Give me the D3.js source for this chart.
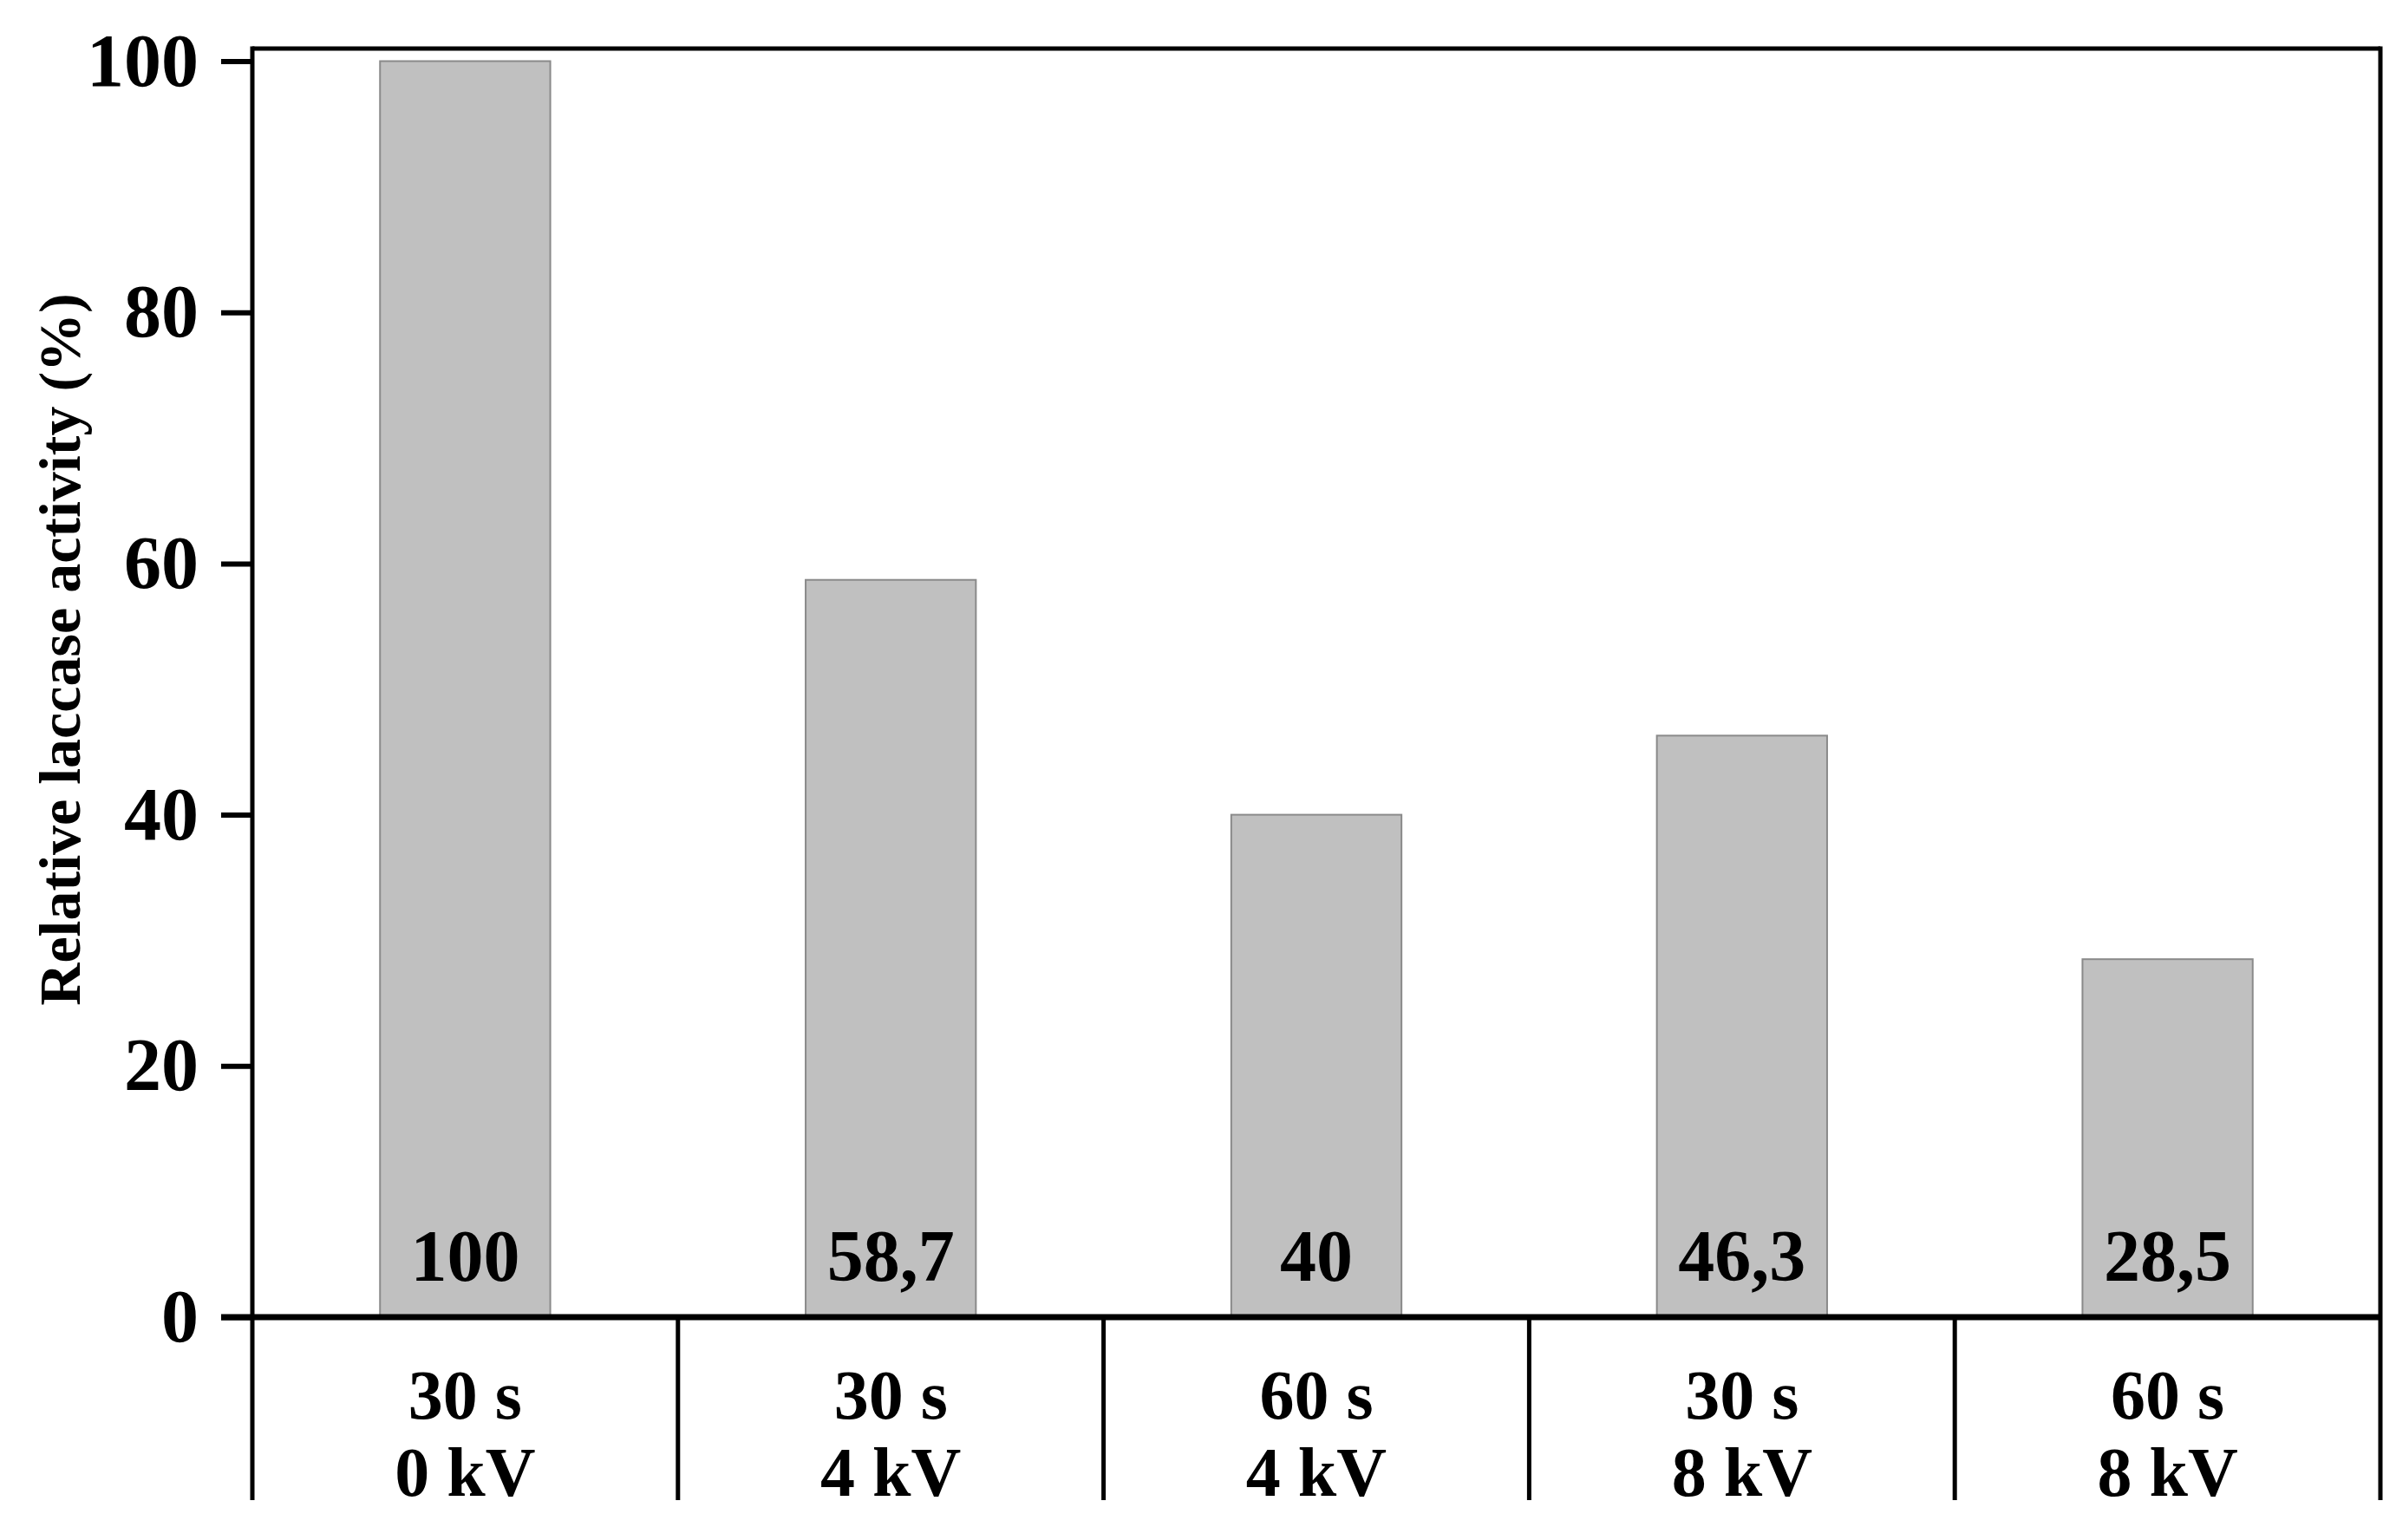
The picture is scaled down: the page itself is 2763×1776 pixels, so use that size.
<!DOCTYPE html>
<html>
<head>
<meta charset="utf-8">
<script src="https://cdn.jsdelivr.net/npm/d3@7"></script>
<style>
  html, body { margin: 0; padding: 0; background: #fff; }
  svg { display: block; }
</style>
</head>
<body>
<div id="chart"></div>
<script>
const WIDTH = 2763;
const HEIGHT = 1776;
const MARGIN = { top: 56, right: 18, bottom: 257, left: 291 };
const FONT = "'Liberation Serif', 'DejaVu Serif', serif";

const categories = ["c1", "c2", "c3", "c4", "c5"];
const timeLabels = ["30 s", "30 s", "60 s", "30 s", "60 s"];
const voltageLabels = ["0 kV", "4 kV", "4 kV", "8 kV", "8 kV"];
const activity = [100, 58.7, 40, 46.3, 28.5];
const valueLabels = ["100", "58,7", "40", "46,3", "28,5"];
const yTicks = [0, 20, 40, 60, 80, 100];

const points = categories.map((c, i) => ({
  key: c,
  time: timeLabels[i],
  volt: voltageLabels[i],
  value: activity[i],
  label: valueLabels[i],
}));

const x0 = MARGIN.left;
const x1 = WIDTH - MARGIN.right;
const yBase = HEIGHT - MARGIN.bottom;

const xScale = d3
  .scaleBand()
  .domain(categories)
  .range([x0, x1])
  .paddingInner(0.6)
  .paddingOuter(0.3);

const yScale = d3
  .scaleLinear()
  .domain([0, 100])
  .range([yBase, 70.5]);

const svg = d3
  .select("#chart")
  .append("svg")
  .attr("width", WIDTH)
  .attr("height", HEIGHT)
  .attr("viewBox", `0 0 ${WIDTH} ${HEIGHT}`);

// bars
svg
  .append("g")
  .selectAll("rect")
  .data(points)
  .join("rect")
  .attr("x", (d) => xScale(d.key))
  .attr("y", (d) => yScale(d.value))
  .attr("width", xScale.bandwidth())
  .attr("height", (d) => yScale(0) - yScale(d.value))
  .attr("fill", "#c0c0c0")
  .attr("stroke", "#8a8a8a")
  .attr("stroke-width", 2);

// value labels inside bars, near the base
svg
  .append("g")
  .selectAll("text")
  .data(points)
  .join("text")
  .attr("x", (d) => xScale(d.key) + xScale.bandwidth() / 2)
  .attr("y", yBase - 42)
  .attr("text-anchor", "middle")
  .attr("font-family", FONT)
  .attr("font-weight", "bold")
  .attr("font-size", 84)
  .attr("fill", "#000")
  .text((d) => d.label);

// y axis
const yAxis = d3.axisLeft(yScale).tickValues(yTicks).tickSize(36).tickPadding(26);
svg
  .append("g")
  .attr("transform", `translate(${x0},0)`)
  .call(yAxis)
  .call((g) => g.select(".domain").remove())
  .call((g) => g.selectAll("line").attr("stroke", "#000").attr("stroke-width", 6))
  .call((g) =>
    g
      .selectAll("text")
      .attr("font-family", FONT)
      .attr("font-weight", "bold")
      .attr("font-size", 86)
      .attr("fill", "#000")
  );

// frame: top, right, left and baseline
const step = xScale.step();
const bottomLine = 1730;
const frame = svg.append("g").attr("stroke", "#000").attr("stroke-width", 5).attr("fill", "none");
frame.append("line").attr("x1", x0).attr("x2", x1).attr("y1", MARGIN.top).attr("y2", MARGIN.top);
frame.append("line").attr("x1", x0).attr("x2", x0).attr("y1", MARGIN.top - 2.5).attr("y2", bottomLine);
frame.append("line").attr("x1", x1).attr("x2", x1).attr("y1", MARGIN.top - 2.5).attr("y2", bottomLine);
frame.append("line").attr("x1", x0 - 36).attr("x2", x1).attr("y1", yBase).attr("y2", yBase).attr("stroke-width", 7);

// category separators below the baseline
const separators = categories.slice(1).map((c) => xScale(c) - (step * xScale.paddingInner()) / 2);
svg
  .append("g")
  .selectAll("line")
  .data(separators)
  .join("line")
  .attr("x1", (d) => d)
  .attr("x2", (d) => d)
  .attr("y1", yBase)
  .attr("y2", bottomLine)
  .attr("stroke", "#000")
  .attr("stroke-width", 5);

// two-line category labels
const catLabels = svg
  .append("g")
  .selectAll("text")
  .data(points)
  .join("text")
  .attr("text-anchor", "middle")
  .attr("font-family", FONT)
  .attr("font-weight", "bold")
  .attr("font-size", 80)
  .attr("fill", "#000");
catLabels
  .append("tspan")
  .attr("x", (d) => xScale(d.key) + xScale.bandwidth() / 2)
  .attr("y", 1636)
  .text((d) => d.time);
catLabels
  .append("tspan")
  .attr("x", (d) => xScale(d.key) + xScale.bandwidth() / 2)
  .attr("y", 1725)
  .text((d) => d.volt);

// y axis title
const titleX = 92;
const titleY = 749;
svg
  .append("text")
  .attr("x", titleX)
  .attr("y", titleY)
  .attr("text-anchor", "middle")
  .attr("transform", `rotate(-90 ${titleX} ${titleY})`)
  .attr("font-family", FONT)
  .attr("font-weight", "bold")
  .attr("font-size", 68)
  .attr("fill", "#000")
  .text("Relative laccase activity (%)");
</script>
</body>
</html>
